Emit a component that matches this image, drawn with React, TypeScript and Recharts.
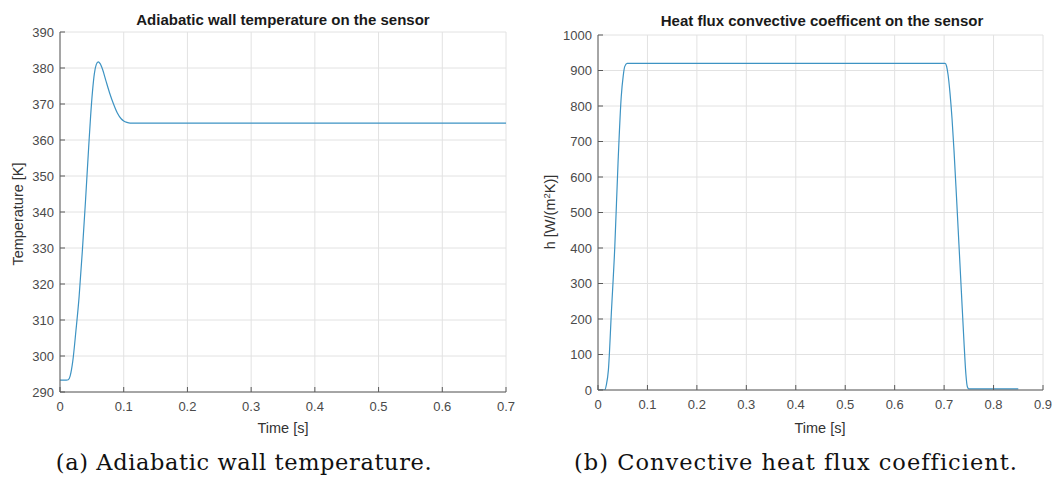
import React from "react";
import { LineChart, Line, XAxis, YAxis, CartesianGrid } from "recharts";

// (a) adiabatic wall temperature [K] vs time [s]
const tempTime = [
  0, 0.005, 0.01, 0.013, 0.016, 0.02, 0.025, 0.03, 0.035, 0.04, 0.045, 0.048,
  0.051, 0.054, 0.057, 0.06, 0.063, 0.067, 0.072, 0.078, 0.084, 0.09, 0.096,
  0.1, 0.105, 0.11, 0.12, 0.2, 0.3, 0.4, 0.5, 0.6, 0.7,
];
const tempValue = [
  293.3, 293.3, 293.3, 293.4, 294.5, 298.5, 307, 316.5, 329, 343, 358, 366.5,
  373.5, 378.5, 381, 381.7, 381.2, 379.5, 376.5, 373, 370, 367.5, 365.9,
  365.3, 364.9, 364.7, 364.7, 364.7, 364.7, 364.7, 364.7, 364.7, 364.7,
];
const tempXTicks = [0, 0.1, 0.2, 0.3, 0.4, 0.5, 0.6, 0.7];
const tempYTicks = [290, 300, 310, 320, 330, 340, 350, 360, 370, 380, 390];

// (b) convective heat flux coefficient [W/(m^2 K)] vs time [s]
const hTime = [
  0, 0.005, 0.0135, 0.017, 0.021, 0.027, 0.034, 0.0405, 0.047, 0.051, 0.054,
  0.0587, 0.2, 0.4, 0.6, 0.702, 0.705, 0.708, 0.712, 0.716, 0.72, 0.725, 0.73,
  0.735, 0.74, 0.744, 0.747, 0.75, 0.8, 0.85,
];
const hValue = [
  0, 0, 0, 15, 56, 217, 404, 639, 826, 885, 911, 920, 920, 920, 920, 920, 912,
  888, 835, 765, 675, 545, 410, 275, 140, 45, 9, 3, 3, 3,
];
const hXTicks = [0, 0.1, 0.2, 0.3, 0.4, 0.5, 0.6, 0.7, 0.8, 0.9];
const hYTicks = [0, 100, 200, 300, 400, 500, 600, 700, 800, 900, 1000];

const tempData = tempTime.map((t, i) => ({ t, v: tempValue[i] }));
const hData = hTime.map((t, i) => ({ t, v: hValue[i] }));

const LINE = "#3d93c3";
const BOX = "#5a5a5a";
const GRID = "#e2e2e2";
const sans = "Liberation Sans, Arial, sans-serif";
const tickStyle = { fill: "#4a4a4a", fontSize: 13, fontFamily: sans };
const blank = () => "";

const Panel = ({ data, xTicks, yTicks, xDomain, yDomain, width, height, margin, yAxisWidth }: any) => (
  <LineChart width={width} height={height} data={data} margin={margin}>
    <CartesianGrid stroke={GRID} />
    <XAxis
      dataKey="t"
      type="number"
      domain={xDomain}
      ticks={xTicks}
      height={30}
      tickSize={-5}
      tickMargin={15}
      tick={tickStyle}
      stroke={BOX}
      allowDataOverflow
    />
    <XAxis
      xAxisId="top"
      orientation="top"
      dataKey="t"
      type="number"
      domain={xDomain}
      ticks={xTicks}
      height={0}
      tickSize={-5}
      tickFormatter={blank}
      stroke={BOX}
      allowDataOverflow
    />
    <YAxis
      type="number"
      domain={yDomain}
      ticks={yTicks}
      width={yAxisWidth}
      tickSize={-5}
      tickMargin={11}
      tick={tickStyle}
      stroke={BOX}
      allowDataOverflow
    />
    <YAxis
      yAxisId="right"
      orientation="right"
      type="number"
      domain={yDomain}
      ticks={yTicks}
      width={0}
      tickSize={-5}
      tickFormatter={blank}
      stroke={BOX}
      allowDataOverflow
    />
    <Line
      dataKey="v"
      type="monotone"
      stroke={LINE}
      strokeWidth={1.2}
      dot={false}
      isAnimationActive={false}
    />
  </LineChart>
);

const abs = (style: any) => ({ position: "absolute" as const, ...style });

const captionFont = `22.5px "DejaVu Serif", serif`;

export default function App() {
  return (
    <div style={abs({ left: 0, top: 0, width: 1055, height: 486, background: "#fff", overflow: "hidden" })}>
      <div style={abs({ left: 0, top: 0 })}>
        <Panel
          data={tempData}
          xTicks={tempXTicks}
          yTicks={tempYTicks}
          xDomain={[0, 0.7]}
          yDomain={[290, 390]}
          width={530}
          height={440}
          margin={{ top: 32, right: 24, bottom: 18, left: 0 }}
          yAxisWidth={60}
        />
      </div>
      <div style={abs({ left: 530, top: 0 })}>
        <Panel
          data={hData}
          xTicks={hXTicks}
          yTicks={hYTicks}
          xDomain={[0, 0.9]}
          yDomain={[0, 1000]}
          width={525}
          height={440}
          margin={{ top: 35, right: 12, bottom: 20, left: 0 }}
          yAxisWidth={68}
        />
      </div>

      {/* titles */}
      <div style={abs({ left: 0, width: 566, top: 11, textAlign: "center", font: `bold 15px ${sans}`, color: "#1a1a1a", lineHeight: "17px" })}>
        Adiabatic wall temperature on the sensor
      </div>
      <div style={abs({ left: 530, width: 584, top: 12, textAlign: "center", font: `bold 15px ${sans}`, color: "#1a1a1a", lineHeight: "17px" })}>
        Heat flux convective coefficent on the sensor
      </div>

      {/* axis labels */}
      <div style={abs({ left: 0, width: 566, top: 420, textAlign: "center", font: `14.5px ${sans}`, color: "#333", lineHeight: "16px" })}>
        Time [s]
      </div>
      <div style={abs({ left: 530, width: 580, top: 420, textAlign: "center", font: `14.5px ${sans}`, color: "#333", lineHeight: "16px" })}>
        Time [s]
      </div>
      <div style={abs({ left: 18, top: 214, transform: "translate(-50%, -50%) rotate(-90deg)", whiteSpace: "nowrap", font: `14.5px ${sans}`, color: "#333" })}>
        Temperature [K]
      </div>
      <div style={abs({ left: 550, top: 212, transform: "translate(-50%, -50%) rotate(-90deg)", whiteSpace: "nowrap", font: `14.5px ${sans}`, color: "#333" })}>
        h [W/(m<sup style={{ fontSize: 9.5, verticalAlign: "5px", lineHeight: 0 }}>2</sup>K)]
      </div>

      {/* captions */}
      <div style={abs({ left: 0, width: 488, top: 448, textAlign: "center", font: captionFont, letterSpacing: "0.6px", color: "#111", lineHeight: "28px", whiteSpace: "nowrap" })}>
        (a) Adiabatic wall temperature.
      </div>
      <div style={abs({ left: 530, width: 532, top: 448, textAlign: "center", font: captionFont, letterSpacing: "1px", color: "#111", lineHeight: "28px", whiteSpace: "nowrap" })}>
        (b) Convective heat flux coefficient.
      </div>
    </div>
  );
}
